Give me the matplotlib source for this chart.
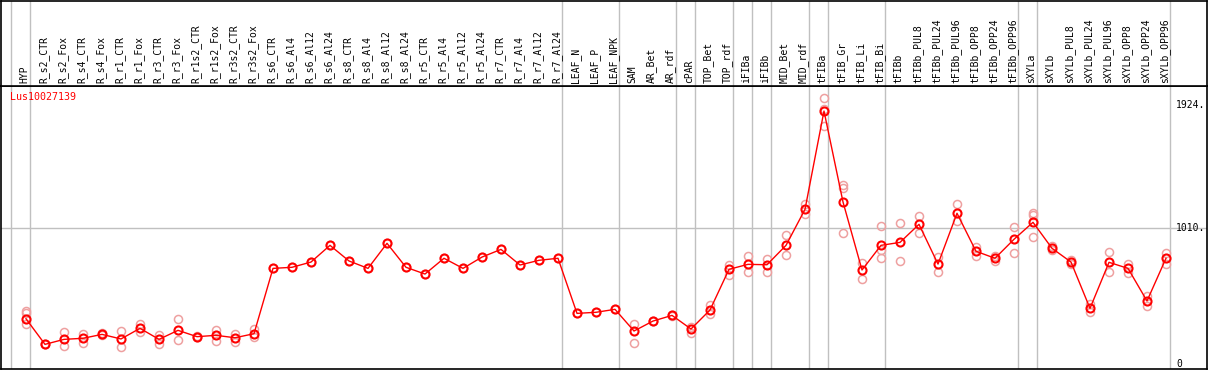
import matplotlib
matplotlib.use("Agg")
import matplotlib.pyplot as plt
import matplotlib.transforms as mtransforms

# ---- datos ----
muestras = [
    "HYP",
    "R_s2_CTR", "R_s2_Fox", "R_s4_CTR", "R_s4_Fox", "R_r1_CTR", "R_r1_Fox",
    "R_r3_CTR", "R_r3_Fox", "R_r1s2_CTR", "R_r1s2_Fox", "R_r3s2_CTR", "R_r3s2_Fox",
    "R_s6_CTR", "R_s6_Al4", "R_s6_Al12", "R_s6_Al24",
    "R_s8_CTR", "R_s8_Al4", "R_s8_Al12", "R_s8_Al24",
    "R_r5_CTR", "R_r5_Al4", "R_r5_Al12", "R_r5_Al24",
    "R_r7_CTR", "R_r7_Al4", "R_r7_Al12", "R_r7_Al24",
    "LEAF_N", "LEAF_P", "LEAF_NPK",
    "SAM", "AR_Bet", "AR_rdf",
    "cPAR",
    "TOP_Bet", "TOP_rdf",
    "iFIBa",
    "iFIBb",
    "MID_Bet", "MID_rdf",
    "tFIBa",
    "tFIB_Gr", "tFIB_Li", "tFIB_Bi",
    "tFIBb", "tFIBb_PUL8", "tFIBb_PUL24", "tFIBb_PUL96", "tFIBb_OPP8", "tFIBb_OPP24", "tFIBb_OPP96",
    "sXYLa",
    "sXYLb", "sXYLb_PUL8", "sXYLb_PUL24", "sXYLb_PUL96", "sXYLb_OPP8", "sXYLb_OPP24", "sXYLb_OPP96",
]

# tamano de cada grupo (separadores verticales)
grupos = [1, 28, 3, 3, 1, 2, 1, 1, 2, 1, 3, 7, 1, 7]

media = [
    336,
    146, 183, 191, 220, 186, 265, 183, 250, 203, 213, 195, 225,
    710, 718, 757, 881,
    765, 710, 896, 718,
    668, 785, 710, 794,
    851, 735, 770, 785,
    376, 384, 406,
    245, 319, 361,
    260,
    401, 703,
    740,
    737,
    881, 1148,
    1878,
    1203, 698, 881,
    903, 1037, 742, 1119, 837, 785, 926,
    1052,
    859, 757, 413, 755, 710, 468, 785,
]

replicas = [
    [396, 381, 297],
    [146, 150], [238, 131], [223, 158], [228, 214], [245, 124], [295, 235],
    [218, 148], [332, 176], [203, 206], [252, 173], [220, 166], [258, 203],
    [710], [718], [757], [881],
    [765], [710], [896], [718],
    [668], [785], [710], [794],
    [851], [735], [770], [785],
    [376], [384], [406],
    [297, 154], [319, 322], [361, 358],
    [275, 232],
    [436, 371], [737, 663],
    [802, 685],
    [780, 685],
    [955, 807], [1190, 1111],
    [1972, 1891, 1769],
    [1329, 1304, 975], [752, 633], [1022, 846, 785],
    [1045, 767], [1099, 970], [797, 685], [1186, 1059], [871, 804], [802, 765], [1019, 822],
    [1123, 1106, 941],
    [878, 846], [772, 740], [445, 388], [829, 685], [745, 673], [505, 433], [826, 742],
]

gen = "Lus10027139"
marcas = [0, 1010, 1924]
marcas_txt = ["0", "1010.", "1924."]

# ---- figura ----
W, H = 1209, 370
fig = plt.figure(figsize=(W / 100, H / 100), dpi=100)
mono = "DejaVu Sans Mono"

# pixeles -> coordenadas
x_izq, x_der = 1, 1207
y_cab, y_fondo = 86, 369
ax = fig.add_axes([x_izq / W, (H - y_fondo) / H, (x_der - x_izq) / W, (y_fondo - y_cab) / H])
hx = fig.add_axes([x_izq / W, (H - y_cab) / H, (x_der - x_izq) / W, (y_cab - 0.5) / H], sharex=ax)

paso = 19.0
x0 = 26.0
ax.set_xlim((x_izq - x0) / paso, (x_der - x0) / paso)
ax.set_ylim(-37, 2064)
hx.set_ylim(0, 1)

for a in (ax, hx):
    a.set_xticks([])
    a.set_yticks([])
    for s in a.spines.values():
        s.set_color("black")
        s.set_linewidth(1.2)

# separadores de grupos
inicio = 0
bordes = [0]
for g in grupos:
    inicio += g
    bordes.append(inicio)
for b in bordes:
    xb = b - 15 / paso
    ax.axvline(xb, color="#c0c0c0", lw=1, zorder=0)
    hx.axvline(xb, color="#c0c0c0", lw=1, zorder=0)

# linea de referencia
ax.axhline(1010, color="#c0c0c0", lw=1, zorder=0)

# etiquetas de muestras
for i, m in enumerate(muestras):
    hx.text(i - 0.08, 0.035, m, rotation=90, ha="center", va="bottom",
            fontsize=7, family=mono, color="black")

# replicas
for i, reps in enumerate(replicas):
    ax.plot([i] * len(reps), reps, "o", ms=5.8, mfc="none", mec="#eea0a0",
            mew=1.1, zorder=2, ls="none")

x = list(range(len(media)))
ax.plot(x, media, color="red", lw=1, zorder=3)
ax.plot(x, media, "o", ms=5.8, mfc="none", mec="red", mew=1.5, zorder=4)

# etiquetas del eje
trans = mtransforms.blended_transform_factory(ax.transAxes, ax.transData)
for v, t in zip(marcas, marcas_txt):
    ax.text(0.9745, v, t, transform=trans, ha="left", va="center",
            fontsize=7, family=mono, color="black")

ax.text(9 / (x_der - x_izq), 1 - 11 / (y_fondo - y_cab), gen, transform=ax.transAxes,
        ha="left", va="center", fontsize=7.2, family=mono, color="red")

fig.savefig("out.png", dpi=100)
